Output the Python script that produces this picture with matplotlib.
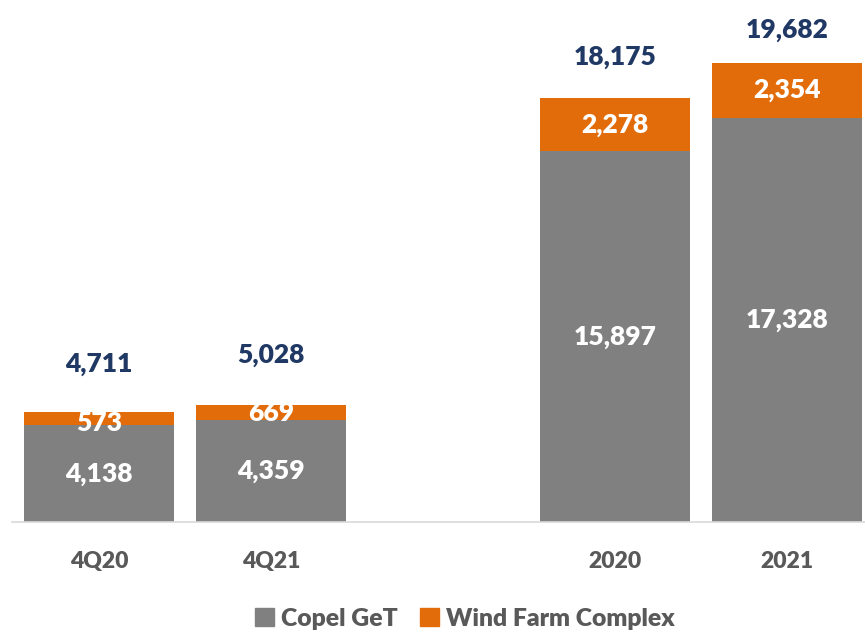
import matplotlib
matplotlib.use("Agg")
import matplotlib.pyplot as plt
from matplotlib.patches import Patch

categories = ["4Q20", "4Q21", "2020", "2021"]
copel_get = [4138, 4359, 15897, 17328]
wind_farm = [573, 669, 2278, 2354]
totals = [4711, 5028, 18175, 19682]

positions = [0, 1, 3, 4]
total_offsets_px = [48, 50, 41, 33]
seg_offsets_px = [-4, 0, 0, 0]

GRAY = "#808080"
ORANGE = "#E36C0A"
NAVY = "#203864"
TICK = "#595959"
FONT = "Lato"
WEIGHT = "heavy"

W, H = 865, 632
fig = plt.figure(figsize=(W / 100, H / 100), dpi=100)
base_px = 522
ax = fig.add_axes([12 / W, 1 - base_px / H, (W - 12) / W, base_px / H])

scale = 459 / 19682  # px per unit
ax.set_ylim(0, base_px / scale)
ax.set_xlim(-87 / 172, (W - 99) / 172)

bw = 150 / 172
ax.bar(positions, copel_get, width=bw, color=GRAY, zorder=2)
ax.bar(positions, wind_farm, width=bw, bottom=copel_get, color=ORANGE, zorder=2)

for x, g, w, t, off, so in zip(positions, copel_get, wind_farm, totals,
                               total_offsets_px, seg_offsets_px):
    ax.text(x, g / 2, f"{g:,}", ha="center", va="center", color="white",
            fontsize=19, fontweight=WEIGHT, family=FONT)
    ax.annotate(f"{w:,}", xy=(x, g + w / 2), xytext=(0, so * 0.72), textcoords="offset points",
                ha="center", va="center", color="white",
                fontsize=19, fontweight=WEIGHT, family=FONT)
    ax.annotate(f"{t:,}", xy=(x, t), xytext=(0, off * 0.72), textcoords="offset points",
                ha="center", va="center", color=NAVY, fontsize=19,
                fontweight=WEIGHT, family=FONT)

for s in ["top", "right", "left"]:
    ax.spines[s].set_visible(False)
ax.spines["bottom"].set_color("#D9D9D9")
ax.spines["bottom"].set_linewidth(1.2)
ax.set_yticks([])
ax.set_xticks(positions)
ax.set_xticklabels(categories, color=TICK, fontsize=16.5, fontweight=WEIGHT, family=FONT)
ax.tick_params(axis="x", length=0, pad=21)

handles = [Patch(color=GRAY, label="Copel GeT"), Patch(color=ORANGE, label="Wind Farm Complex")]
leg = fig.legend(handles=handles, loc="center", bbox_to_anchor=(465 / W, 1 - 619 / H),
                 ncol=2, frameon=False, handlelength=0.75, handleheight=0.75,
                 handletextpad=0.3, columnspacing=0.9,
                 prop={"family": FONT, "weight": WEIGHT, "size": 17.8})
for txt in leg.get_texts():
    txt.set_color(TICK)

fig.savefig("out.png", dpi=100)
